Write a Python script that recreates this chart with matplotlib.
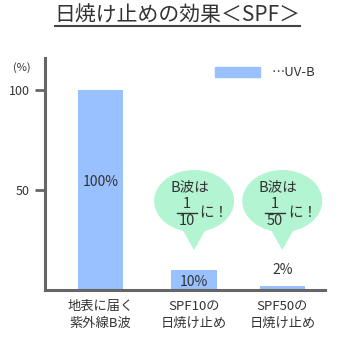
import matplotlib
matplotlib.use("Agg")
import matplotlib.pyplot as plt
from matplotlib.patches import Ellipse, Polygon, Rectangle
from matplotlib.lines import Line2D

plt.rcParams['font.family'] = ['Noto Sans CJK JP', 'DejaVu Sans']

# data
categories = ['地表に届く\n紫外線B波', 'SPF10の\n日焼け止め', 'SPF50の\n日焼け止め']
values = [100, 10, 2]
value_labels = ['100%', '10%', '2%']
fractions = [None, '10', '50']
yticks = [50, 100]

BAR = '#99c0ff'
BUBBLE = '#b3f5d2'
TXT = '#333333'
AX = '#666666'

W, H = 354, 352
fig = plt.figure(figsize=(W / 100, H / 100), dpi=100)

def fx(px):
    return px / W

def fy(py):
    return 1 - py / H

ax = fig.add_axes([fx(45), fy(290), fx(325) - fx(45), fy(58) - fy(290)])
x = [0, 1.03, 2]
ax.bar(x, values, width=0.5, color=BAR)
ax.set_xlim(-0.61, 2.47)
ax.set_ylim(0, 116)

for s in ['top', 'right']:
    ax.spines[s].set_visible(False)
for s in ['left', 'bottom']:
    ax.spines[s].set_color(AX)
    ax.spines[s].set_linewidth(2.2)

ax.set_yticks(yticks)
ax.set_yticklabels([str(t) for t in yticks], fontsize=9, color=TXT)
ax.tick_params(axis='y', length=7, width=2, color=AX, pad=4)
ax.set_xticks(x)
ax.set_xticklabels(categories, fontsize=9.5, color=TXT, linespacing=1.45)
ax.tick_params(axis='x', length=0, pad=7)

# value labels
ax.text(x[0], 54, value_labels[0], ha='center', va='center', fontsize=10, color=TXT)
ax.text(x[1], 4, value_labels[1], ha='center', va='center', fontsize=10, color=TXT)
ax.text(x[2], 10, value_labels[2], ha='center', va='center', fontsize=10, color=TXT)

# speech bubbles
for i in [1, 2]:
    cx = x[i]
    cy = 44.5
    tail = Polygon([[cx - 0.15, 32], [cx + 0.15, 32], [cx, 20]], closed=True,
                   color=BUBBLE, lw=0)
    ax.add_patch(tail)
    ax.add_patch(Ellipse((cx, cy), 0.88, 31, color=BUBBLE, lw=0))
    ax.text(cx - 0.05, 51.5, 'B波は', ha='center', va='center', fontsize=10.5, color=TXT)
    ax.text(cx - 0.08, 42.8, '1', ha='center', va='center', fontsize=10.5, color=TXT)
    ax.plot([cx - 0.19, cx + 0.03], [38.5, 38.5], color=TXT, lw=1)
    ax.text(cx - 0.08, 34.3, fractions[i], ha='center', va='center', fontsize=10.5, color=TXT)
    ax.text(cx + 0.06, 38.5, 'に！', ha='left', va='center', fontsize=10.5, color=TXT)

# (%) label
fig.text(fx(22), fy(68), '(%)', ha='center', va='center', fontsize=8, color=TXT)

# legend
fig.patches.append(Rectangle((fx(215), fy(77)), fx(260) - fx(215), fy(67) - fy(77),
                             transform=fig.transFigure, color=BAR))
fig.text(fx(272), fy(72), '…UV-B', ha='left', va='center', fontsize=9.5, color=TXT)

# title
fig.text(0.5, fy(15), '日焼け止めの効果＜SPF＞', ha='center', va='center',
         fontsize=15, color=TXT)
fig.add_artist(Line2D([fx(55), fx(300)], [fy(26), fy(26)], color='#444444', lw=1.5))

fig.savefig('out.png', dpi=100, facecolor='white')
